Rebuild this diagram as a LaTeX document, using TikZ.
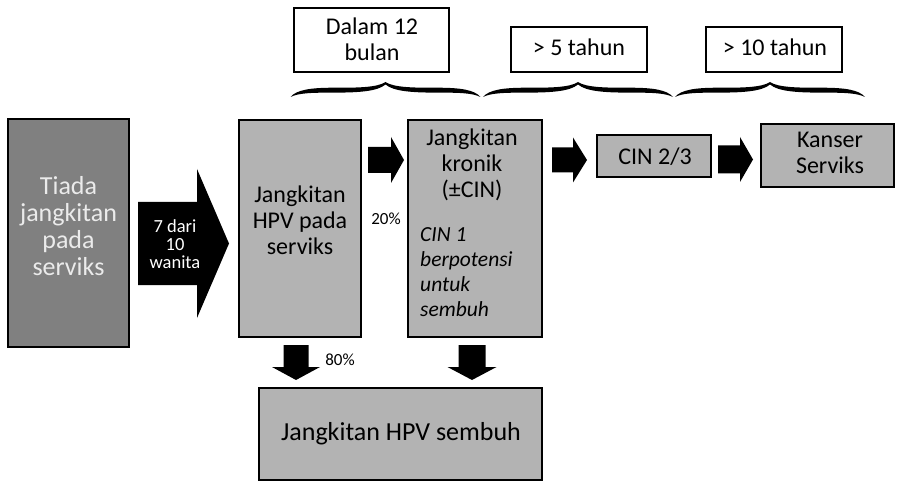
\documentclass[tikz,border=0pt]{standalone}
\usepackage{fontspec}
\setmainfont{Carlito}
\definecolor{darkbox}{HTML}{808080}
\definecolor{lightbox}{HTML}{B3B3B3}
\definecolor{paletext}{HTML}{EBEBEB}
\tikzset{
  box/.style={draw=black, line width=2pt, fill=lightbox, inner sep=0pt},
  darkbox/.style={box, fill=darkbox},
  timebox/.style={draw=black, line width=2pt, fill=white, inner sep=0pt},
  txt/.style={inner sep=0pt, align=center, text=black},
  big/.style={font=\fontsize{24}{26}\selectfont},
  small/.style={font=\fontsize{17}{18}\selectfont},
  arrowfill/.style={fill=black},
  pics/topbrace/.style={code={
    \fill[black] (-95,15) .. controls (-89,8) and (-76,5.6) .. (-50,5.7)
      .. controls (-28,5.8) and (-8,5.5) .. (0,0)
      .. controls (8,5.5) and (28,5.8) .. (50,5.7)
      .. controls (76,5.6) and (89,8) .. (95,15)
      .. controls (87,11) and (75,10.6) .. (50,10.6)
      .. controls (28,10.6) and (8,9.5) .. (0,2.5)
      .. controls (-8,9.5) and (-28,10.6) .. (-50,10.6)
      .. controls (-75,10.6) and (-87,11) .. (-95,15) -- cycle;
  }}
}
% block arrow pointing right: start x, head base x, tip x, centre y, body half, head half
\newcommand\rightblock[6]{%
  \fill[arrowfill] (#1,{#4-#5}) -- (#2,{#4-#5}) -- (#2,{#4-#6}) -- (#3,#4)
    -- (#2,{#4+#6}) -- (#2,{#4+#5}) -- (#1,{#4+#5}) -- cycle;}
% block arrow pointing down: centre x, start y, head base y, tip y, body half, head half
\newcommand\downblock[6]{%
  \fill[arrowfill] ({#1-#5},#2) -- ({#1+#5},#2) -- ({#1+#5},#3) -- ({#1+#6},#3)
    -- (#1,#4) -- ({#1-#6},#3) -- ({#1-#5},#3) -- cycle;}
\begin{document}
\begin{tikzpicture}[x=1pt,y=-1pt]
\useasboundingbox (0,0) rectangle (905,481);

% time spans above the chain
\node[timebox, minimum width=155pt, minimum height=64pt] (span1) at (371.5,40) {};
\node[timebox, minimum width=136pt, minimum height=45pt] (span2) at (579,49.5) {};
\node[timebox, minimum width=136pt, minimum height=45pt] (span3) at (774,49.5) {};
\node[txt, big] (span1lbl) at (372,38.9) {Dalam 12\\bulan};
\node[txt, big, anchor=base] (span2lbl) at (579,56) {> 5 tahun};
\node[txt, big, anchor=base] (span3lbl) at (775,56) {> 10 tahun};

\pic at (385.5,82) {topbrace};
\pic at (578,82) {topbrace};
\pic at (770,82) {topbrace};

% stages
\node[darkbox, minimum width=121pt, minimum height=228pt] (tiada) at (68.5,233) {};
\node[box, minimum width=122pt, minimum height=217pt] (hpv) at (300,228.5) {};
\node[box, minimum width=134pt, minimum height=217pt] (kronik) at (475,228.5) {};
\node[box, minimum width=114pt, minimum height=42pt] (cin) at (654,156) {};
\node[box, minimum width=133pt, minimum height=63pt] (kanser) at (827.5,155.5) {};
\node[box, minimum width=283pt, minimum height=92pt] (sembuh) at (400.5,434) {};

\node[txt, text=paletext, font=\fontsize{26}{27}\selectfont] (tiadalbl) at (68.5,225.6)
  {Tiada\\jangkitan\\pada\\serviks};
\node[txt, big] (hpvlbl) at (300,220.4) {Jangkitan\\HPV pada\\serviks};
\node[txt, big] (kroniklbl) at (472,165) {Jangkitan\\kronik\\(±CIN)};
\node[txt, align=left, anchor=west, font=\fontsize{21.5}{25}\selectfont\itshape] (kronikcin1) at (420,272.5)
  {CIN 1\\berpotensi\\untuk\\sembuh};
\node[txt, big, anchor=base] (cinlbl) at (655,165) {CIN 2/3};
\node[txt, big] (kanserlbl) at (830,152.7) {Kanser\\Serviks};
\node[txt, font=\fontsize{26}{28}\selectfont, anchor=base] (sembuhlbl) at (401,440) {Jangkitan HPV sembuh};

% block arrows between the stages
\rightblock{138}{197}{229}{243.5}{41.5}{74.5}
\node[txt, text=white, font=\fontsize{18.5}{18}\selectfont] (ratio) at (175,244) {7 dari\\10\\wanita};
\rightblock{368}{391}{404}{160}{13}{23}
\rightblock{552}{573}{587}{160}{12.5}{22.5}
\rightblock{718}{740}{753}{159.5}{14}{22.5}
\downblock{296}{345}{367}{380}{12.5}{24}
\downblock{472}{345}{367}{380}{13.5}{24.5}

\node[txt, small, anchor=base] (pct20) at (386,225) {20\%};
\node[txt, small, anchor=base] (pct80) at (340,365) {80\%};
\end{tikzpicture}
\end{document}
